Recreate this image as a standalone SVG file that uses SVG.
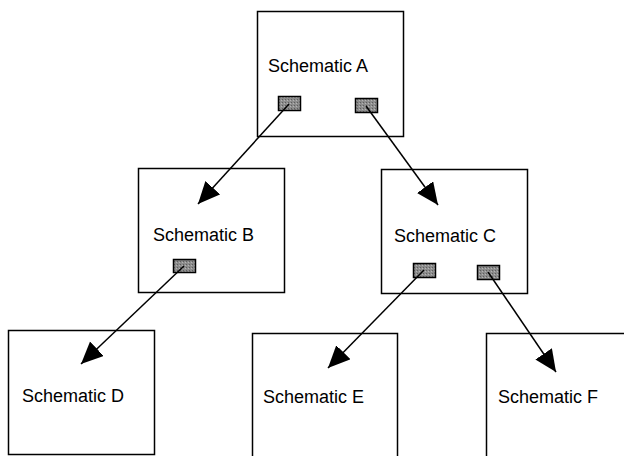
<svg xmlns="http://www.w3.org/2000/svg" width="624" height="456" viewBox="0 0 624 456">
<style>
.box{fill:#fff;stroke:#000;stroke-width:1.5}
.port{fill:url(#hatch);stroke:#000;stroke-width:1.5}
.lbl{font-family:"Liberation Sans",Arial,sans-serif;font-size:18px;fill:#000}
.conn{stroke:#000;stroke-width:1.5;fill:none;marker-end:url(#arr)}
</style>
<defs>
<pattern id="hatch" width="3" height="3" patternUnits="userSpaceOnUse">
<rect width="3" height="3" fill="#8c8c8c"/>
<rect width="1" height="1" fill="#5e5e5e"/>
<rect x="2" y="1" width="1" height="1" fill="#b4b4b4"/>
</pattern>
<marker id="arr" markerUnits="userSpaceOnUse" markerWidth="24" markerHeight="22" refX="22" refY="10" orient="auto">
<path d="M0,0 L22,10 L0,20 z" fill="#000"/>
</marker>
</defs>
<g id="nodeA">
<rect class="box" x="257.5" y="11.5" width="146" height="125"/>
<text class="lbl" x="268" y="72">Schematic A</text>
<rect class="port" x="278.5" y="96.5" width="22" height="14"/>
<rect class="port" x="355.5" y="98.5" width="22" height="14"/>
</g>
<g id="nodeB">
<rect class="box" x="138.5" y="168.5" width="146" height="124"/>
<text class="lbl" x="153" y="241">Schematic B</text>
<rect class="port" x="173.5" y="259.5" width="22" height="13"/>
</g>
<g id="nodeC">
<rect class="box" x="381.5" y="169.5" width="146" height="124"/>
<text class="lbl" x="394" y="242">Schematic C</text>
<rect class="port" x="413.5" y="263.5" width="22" height="14"/>
<rect class="port" x="477.5" y="265.5" width="22" height="14"/>
</g>
<g id="nodeD">
<rect class="box" x="8.5" y="330.5" width="146" height="124"/>
<text class="lbl" x="22" y="402">Schematic D</text>
</g>
<g id="nodeE">
<rect class="box" x="252.5" y="333.5" width="145" height="130"/>
<text class="lbl" x="263" y="403">Schematic E</text>
</g>
<g id="nodeF">
<rect class="box" x="486.5" y="333.5" width="145" height="130"/>
<text class="lbl" x="498" y="403">Schematic F</text>
</g>
<g id="connectors">
<line class="conn" x1="289" y1="104" x2="198" y2="204"/>
<line class="conn" x1="366" y1="106" x2="438" y2="205"/>
<line class="conn" x1="184" y1="266" x2="81" y2="364"/>
<line class="conn" x1="424" y1="270" x2="328" y2="368"/>
<line class="conn" x1="488" y1="272" x2="556" y2="372"/>
</g>
</svg>
